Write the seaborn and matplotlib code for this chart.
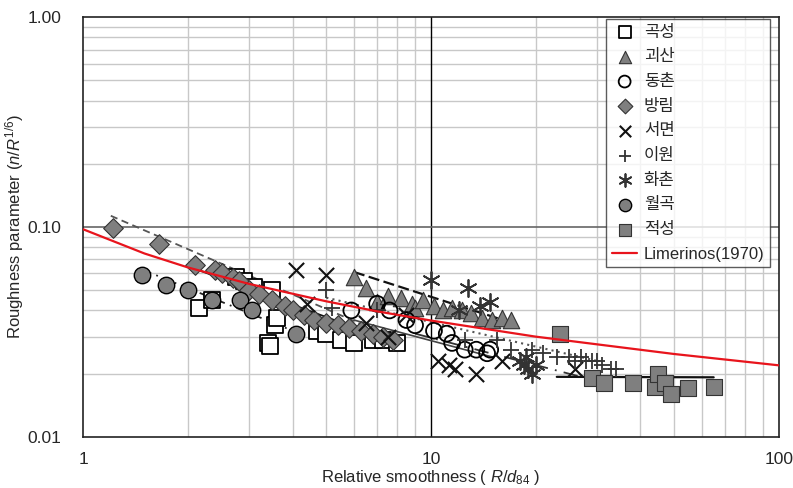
import matplotlib
matplotlib.use("Agg")
import matplotlib.pyplot as plt
import seaborn as sns
import pandas as pd
from matplotlib.ticker import FixedLocator, NullFormatter

# ---- data (R/d84, n/R^(1/6)) ----
gokseong_x = [2.15, 2.35, 2.75, 2.9, 3.1, 3.5, 3.4, 3.45, 3.55, 3.6, 4.7, 5.0, 5.5, 6.0, 6.8, 7.3, 8.0]
gokseong_y = [0.041, 0.045, 0.058, 0.055, 0.052, 0.050, 0.028, 0.027, 0.034, 0.037, 0.032, 0.031, 0.029, 0.028, 0.029, 0.029, 0.028]

goesan_x = [6.0, 6.5, 7.0, 7.5, 8.2, 8.8, 9.0, 9.5, 10.2, 10.8, 11.5, 12.3, 13.0, 14.0, 15.0, 16.0, 17.0]
goesan_y = [0.058, 0.051, 0.044, 0.047, 0.046, 0.043, 0.041, 0.045, 0.042, 0.040, 0.041, 0.040, 0.039, 0.037, 0.036, 0.037, 0.036]

dongchon_x = [5.9, 7.0, 7.6, 8.5, 9.0, 10.2, 11.1, 11.5, 12.5, 13.5, 14.5, 14.8]
dongchon_y = [0.040, 0.043, 0.040, 0.036, 0.034, 0.032, 0.031, 0.028, 0.026, 0.026, 0.025, 0.026]

bangrim_x = [1.22, 1.65, 2.1, 2.4, 2.5, 2.7, 2.8, 3.0, 3.2, 3.5, 3.8, 4.0, 4.3, 4.6, 5.0, 5.4, 5.8, 6.3, 6.8, 7.3, 7.8]
bangrim_y = [0.099, 0.083, 0.066, 0.062, 0.060, 0.057, 0.055, 0.050, 0.048, 0.045, 0.042, 0.040, 0.038, 0.036, 0.035, 0.034, 0.033, 0.032, 0.031, 0.030, 0.029]

seomyeon_x = [4.1, 5.0, 4.4, 6.5, 7.5, 8.5, 10.5, 11.3, 11.7, 13.5, 16.0, 26.0]
seomyeon_y = [0.062, 0.059, 0.043, 0.035, 0.030, 0.038, 0.023, 0.022, 0.021, 0.020, 0.023, 0.021]

iwon_x = [5.0, 5.2, 7.0, 12.5, 15.5, 17.0, 19.5, 21.0, 23.0, 25.0, 26.0, 27.0, 28.0, 29.0, 30.0, 31.0, 33.0, 34.0]
iwon_y = [0.050, 0.041, 0.040, 0.029, 0.029, 0.026, 0.026, 0.025, 0.024, 0.024, 0.023, 0.024, 0.023, 0.023, 0.023, 0.022, 0.021, 0.021]

hwachon_x = [10.0, 12.8, 13.8, 14.8, 12.0, 18.0, 18.5, 19.0, 19.5, 18.8, 20.0]
hwachon_y = [0.056, 0.051, 0.042, 0.044, 0.040, 0.023, 0.022, 0.021, 0.020, 0.024, 0.022]

wolgok_x = [1.48, 1.73, 2.0, 2.35, 2.83, 3.05, 4.1]
wolgok_y = [0.059, 0.053, 0.050, 0.045, 0.045, 0.040, 0.031]

jeokseong_x = [23.5, 29.0, 31.5, 38.0, 44.0, 45.0, 47.0, 49.0, 55.0, 65.0]
jeokseong_y = [0.031, 0.019, 0.018, 0.018, 0.0172, 0.020, 0.018, 0.016, 0.017, 0.0173]

# Limerinos (1970) curve values
limerinos_x = [1, 1.5, 2, 3, 5, 7, 10, 20, 50, 100]
limerinos_y = [0.0974, 0.0747, 0.0641, 0.0535, 0.0442, 0.0396, 0.0358, 0.0300, 0.0248, 0.0219]

# fitted trend lines (end points)
fit_bangrim_x, fit_bangrim_y = [1.2, 8.0], [0.113, 0.029]
fit_wolgok_x, fit_wolgok_y = [1.5, 4.0], [0.062, 0.032]
fit_gokseong_x, fit_gokseong_y = [2.0, 8.2], [0.065, 0.0275]
fit_goesan_x, fit_goesan_y = [6.0, 17.0], [0.061, 0.035]
fit_dongchon_x, fit_dongchon_y = [6.0, 15.0], [0.036, 0.024]
fit_iwon_x, fit_iwon_y = [5.0, 30.0], [0.046, 0.023]
fit_seomyeon_x, fit_seomyeon_y = [9.0, 28.0], [0.031, 0.019]
fit_jeokseong_x, fit_jeokseong_y = [23.0, 65.0], [0.0193, 0.0192]

sns.set_style("white")
plt.rcParams['font.family'] = ['Liberation Sans', 'Noto Sans CJK KR']
plt.rcParams['mathtext.fontset'] = 'custom'
plt.rcParams['mathtext.rm'] = 'Liberation Sans'
plt.rcParams['mathtext.it'] = 'Liberation Sans:italic'

fig = plt.figure(figsize=(7.93, 4.88), dpi=100)
ax = fig.add_axes([0.105, 0.105, 0.877, 0.86])

gray = '#7f7f7f'
edge = '#333333'

# trend lines first (behind markers)
trend = [
    (fit_bangrim_x, fit_bangrim_y, '#555555', (0, (4, 2.5)), 1.3),
    (fit_wolgok_x, fit_wolgok_y, '#222222', (0, (4, 3, 1, 3)), 1.3),
    (fit_gokseong_x, fit_gokseong_y, '#111111', '-', 1.3),
    (fit_goesan_x, fit_goesan_y, '#111111', (0, (5, 2)), 1.6),
    (fit_dongchon_x, fit_dongchon_y, '#444444', '-', 1.2),
    (fit_iwon_x, fit_iwon_y, '#555555', (0, (1, 2)), 1.5),
    (fit_seomyeon_x, fit_seomyeon_y, '#333333', (0, (8, 4, 1, 4)), 1.3),
    (fit_jeokseong_x, fit_jeokseong_y, '#111111', '-', 1.6),
]
for tx, ty, c, ls, lw in trend:
    sns.lineplot(x=tx, y=ty, ax=ax, color=c, linestyle=ls, linewidth=lw, zorder=2)

series = [
    ('곡성', gokseong_x, gokseong_y, dict(marker='s', s=120, facecolor='white', edgecolor='black', linewidth=1.3)),
    ('괴산', goesan_x, goesan_y, dict(marker='^', s=140, facecolor=gray, edgecolor=edge, linewidth=0.8)),
    ('동촌', dongchon_x, dongchon_y, dict(marker='o', s=130, facecolor='none', edgecolor='black', linewidth=1.3)),
    ('방림', bangrim_x, bangrim_y, dict(marker='D', s=100, facecolor=gray, edgecolor=edge, linewidth=0.8)),
    ('서면', seomyeon_x, seomyeon_y, dict(marker='x', s=120, color='#111111', linewidth=1.5)),
    ('이원', iwon_x, iwon_y, dict(marker='+', s=130, color='#333333', linewidth=1.3)),
    ('화촌', hwachon_x, hwachon_y, dict(marker=(6, 2, 0), s=150, color='#333333', linewidth=1.3)),
    ('월곡', wolgok_x, wolgok_y, dict(marker='o', s=140, facecolor=gray, edgecolor='black', linewidth=1.0)),
    ('적성', jeokseong_x, jeokseong_y, dict(marker='s', s=140, facecolor=gray, edgecolor=edge, linewidth=0.8)),
]
for name, sx, sy, kw in series:
    sns.scatterplot(x=sx, y=sy, ax=ax, label=name, zorder=3, **kw)

sns.lineplot(x=limerinos_x, y=limerinos_y, ax=ax, color='#e8141c', linewidth=1.6,
             label='Limerinos(1970)', zorder=4)

ax.set_xscale('log')
ax.set_yscale('log')
ax.set_xlim(1, 100)
ax.set_ylim(0.01, 1.0)

# grid
ax.xaxis.set_major_locator(FixedLocator([1, 10, 100]))
ax.yaxis.set_major_locator(FixedLocator([0.01, 0.1, 1.0]))
ax.xaxis.set_minor_locator(FixedLocator([v * d for d in (1, 10) for v in range(2, 10)]))
ax.yaxis.set_minor_locator(FixedLocator([v * d for d in (0.01, 0.1) for v in range(2, 10)]))
ax.xaxis.set_minor_formatter(NullFormatter())
ax.yaxis.set_minor_formatter(NullFormatter())
ax.set_xticklabels(['1', '10', '100'])
ax.set_yticklabels(['0.01', '0.10', '1.00'])
ax.grid(which='minor', color='#c8c8c8', linewidth=1.0, zorder=0)
ax.axvline(10, color='black', linewidth=1.0, zorder=1)
ax.axhline(0.1, color='#666666', linewidth=1.2, zorder=1)
ax.set_axisbelow(True)
ax.tick_params(which='both', length=0)
ax.tick_params(axis='x', pad=11, labelsize=12.5)
ax.tick_params(axis='y', pad=16, labelsize=12.5)
for sp in ax.spines.values():
    sp.set_color('#222222')
    sp.set_linewidth(1.2)

ax.set_xlabel(r'Relative smoothness ( $R/d_{84}$ )', fontsize=12, labelpad=1)
ax.set_ylabel(r'Roughness parameter ($n/R^{1/6}$)', fontsize=12, labelpad=1)

leg = ax.legend(loc='upper right', bbox_to_anchor=(0.988, 0.996), borderaxespad=0,
                fontsize=12, frameon=True, fancybox=False, edgecolor='#333333',
                handlelength=1.5, handletextpad=0.4, labelspacing=0.58,
                borderpad=0.35, markerscale=0.75)
leg.get_frame().set_linewidth(1.0)

fig.savefig('out.png', dpi=100)
